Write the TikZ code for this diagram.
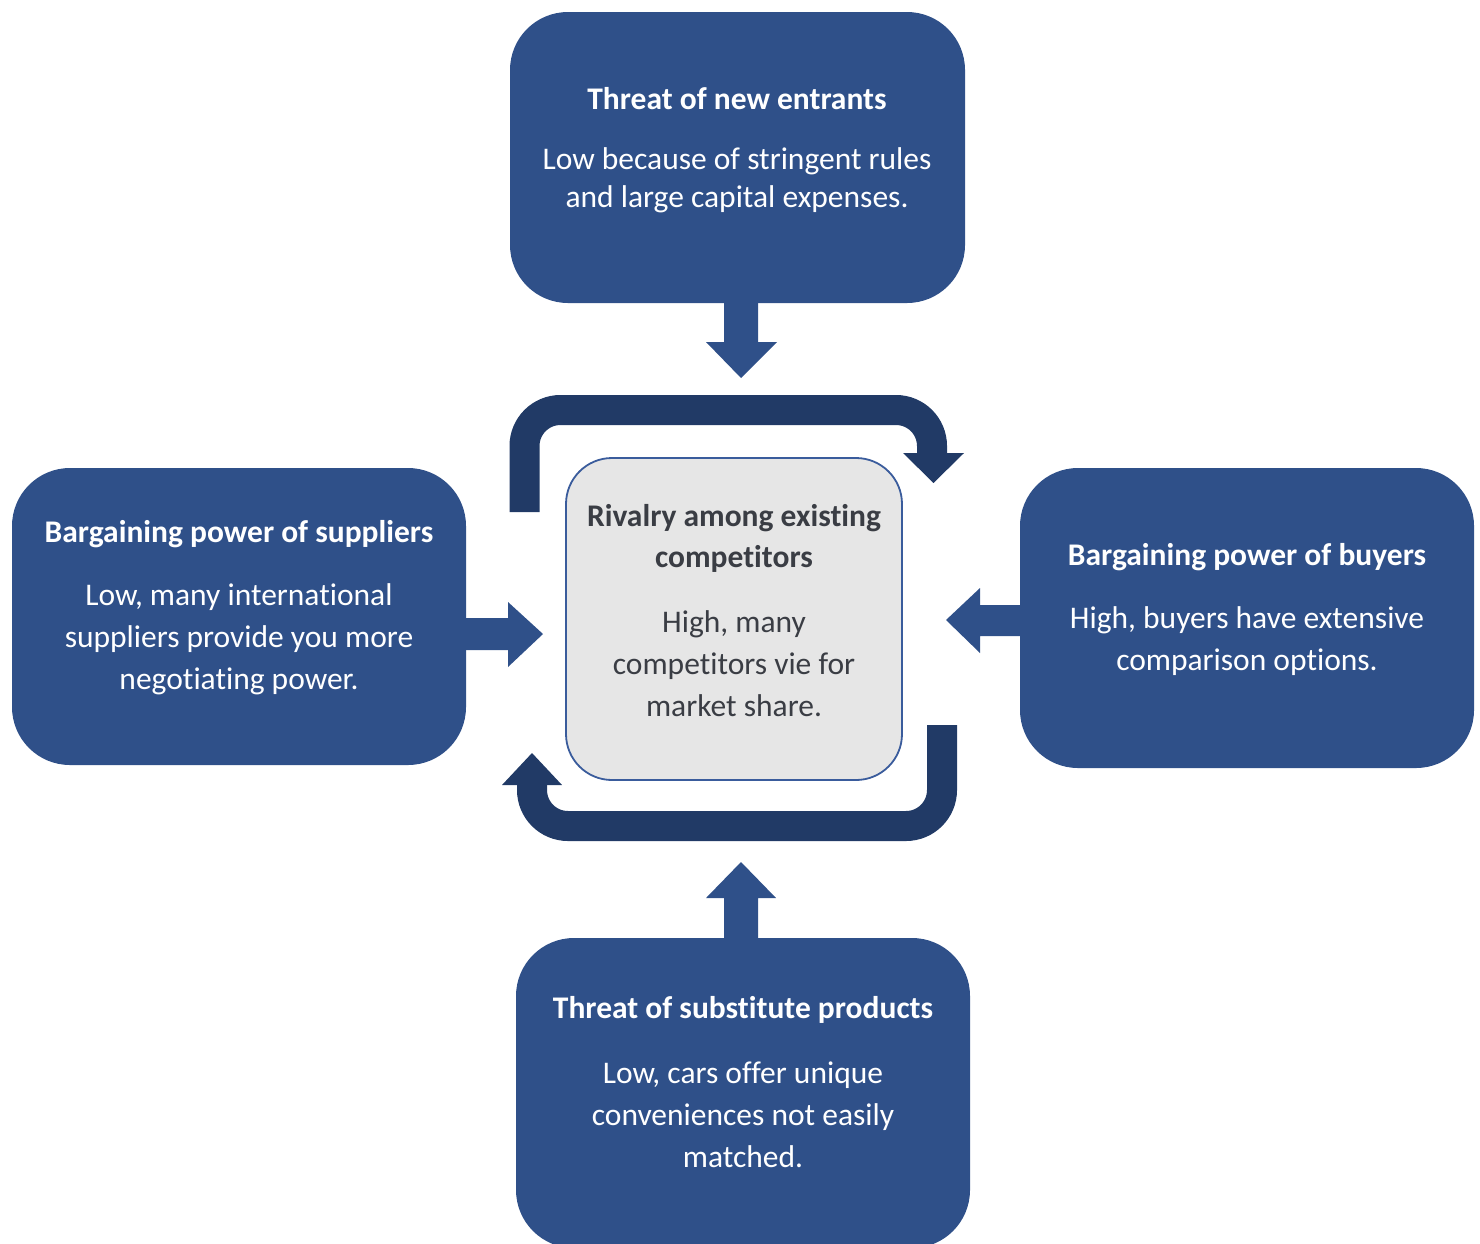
\documentclass[tikz,border=0pt]{standalone}
\usepackage{fontspec}
\setmainfont{Carlito}[Ligatures=NoCommon]
\definecolor{boxblue}{HTML}{2F5089}
\definecolor{darkblue}{HTML}{213A66}
\definecolor{centerfill}{HTML}{E6E6E6}
\definecolor{centerline}{HTML}{3A5C9C}
\definecolor{centertext}{HTML}{3A3D44}
\begin{document}
\begin{tikzpicture}[x=1pt,y=-1pt,
  forcebox/.style={draw=none,fill=boxblue,rounded corners=58pt,inner sep=0pt},
  centerbox/.style={draw=centerline,line width=1.8pt,fill=centerfill,rounded corners=46pt,inner sep=0pt},
  titletext/.style={text=white,font=\fontsize{31.5}{41}\selectfont\bfseries,align=center,inner sep=0pt},
  bodytext/.style={text=white,font=\fontsize{31.5}{42}\selectfont,align=center,inner sep=0pt},
  ctitle/.style={text=centertext,font=\fontsize{31.5}{41}\selectfont\bfseries,align=center,inner sep=0pt},
  cbody/.style={text=centertext,font=\fontsize{31.5}{42}\selectfont,align=center,inner sep=0pt},
  blockarrow/.style={fill=boxblue,draw=none},
  cyclearrow/.style={draw=darkblue,line width=30pt,rounded corners=36pt},
  cyclehead/.style={fill=darkblue,draw=none}]
\useasboundingbox (0,0) rectangle (1480,1243);

% boxes
\node[forcebox,minimum width=455,minimum height=291] (top) at (737.5,157.5) {};
\node[forcebox,minimum width=454,minimum height=297] (left) at (239,616.5) {};
\node[forcebox,minimum width=454,minimum height=300] (right) at (1247,618) {};
\node[forcebox,minimum width=454,minimum height=310] (bottom) at (743,1093) {};

% straight block arrows
\fill[blockarrow] (724,300) -- (758,300) -- (758,342) -- (777,342) -- (741,378) -- (706,342) -- (724,342) -- cycle;
\fill[blockarrow] (464,618) -- (508,618) -- (508,602) -- (543,634) -- (508,667) -- (508,650) -- (464,650) -- cycle;
\fill[blockarrow] (1022,605) -- (980,605) -- (980,588) -- (946,620) -- (980,653) -- (980,636) -- (1022,636) -- cycle;
\fill[blockarrow] (724,940) -- (758,940) -- (758,898) -- (776,898) -- (741,862) -- (706,898) -- (724,898) -- cycle;

% cycle arrows
\draw[cyclearrow] (524.5,512) -- (524.5,410) -- (932,410) -- (932,454);
\fill[cyclehead] (903,453) -- (964,453) -- (933.5,483) -- cycle;
\draw[cyclearrow] (942,725) -- (942,826) -- (532,826) -- (532,784);
\fill[cyclehead] (502,785) -- (562,785) -- (532,753) -- cycle;

% center box
\node[centerbox,minimum width=336,minimum height=322] (center) at (734,619) {};

% texts
\node[titletext] (toptitle) at (737,99) {Threat of new entrants};
\node[bodytext,font=\fontsize{31.5}{38}\selectfont] (topbody) at (737,180) {Low because of stringent rules\\and large capital expenses.};

\node[titletext] (lefttitle) at (239,534) {Bargaining power of suppliers};
\node[bodytext] (leftbody) at (239,639) {Low, many international\\suppliers provide you more\\negotiating power.};

\node[titletext] (righttitle) at (1247,557) {Bargaining power of buyers};
\node[bodytext] (rightbody) at (1247,641) {High, buyers have extensive\\comparison options.};

\node[titletext] (bottomtitle) at (743,1010) {Threat of substitute products};
\node[bodytext] (bottombody) at (743,1115) {Low, cars offer unique\\conveniences not easily\\matched.};

\node[ctitle] (ctitle1) at (734,538) {Rivalry among existing\\competitors};
\node[cbody] (cbody1) at (734,664) {High, many\\competitors vie for\\market share.};
\end{tikzpicture}
\end{document}
